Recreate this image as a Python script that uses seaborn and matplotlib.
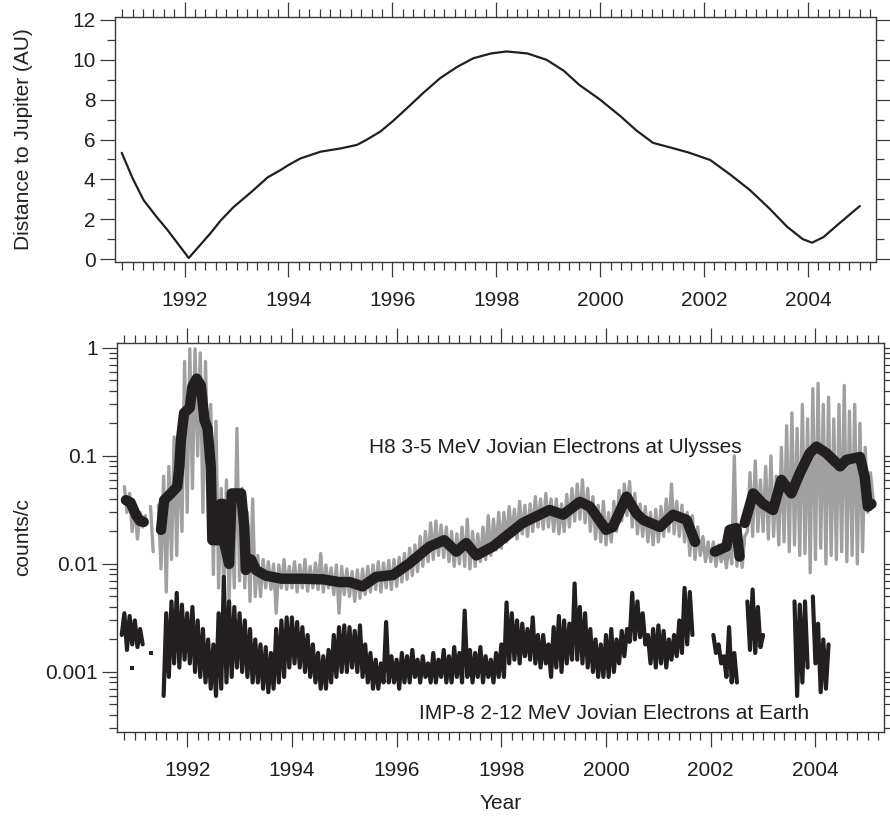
import numpy as np
import pandas as pd
import seaborn as sns
import matplotlib.pyplot as plt
from matplotlib.ticker import MultipleLocator, FuncFormatter, LogLocator, NullFormatter

# ---------------- data ----------------
# Ulysses distance to Jupiter (AU)
dist_year = [1990.79, 1991.0, 1991.21, 1991.45, 1991.67, 1991.9, 1992.08, 1992.5,
             1992.7, 1992.94, 1993.3, 1993.6, 1993.85, 1994.0, 1994.23, 1994.62,
             1995.0, 1995.32, 1995.5, 1995.77, 1996.0, 1996.28, 1996.6, 1996.92,
             1997.25, 1997.56, 1997.9, 1998.2, 1998.6, 1998.97, 1999.3, 1999.6,
             2000.0, 2000.4, 2000.7, 2001.02, 2001.35, 2001.7, 2002.12, 2002.5,
             2002.88, 2003.25, 2003.6, 2003.9, 2004.08, 2004.3, 2004.6, 2005.0]
dist_au = [5.33, 4.05, 2.96, 2.15, 1.46, 0.67, 0.05, 1.3,
           1.95, 2.6, 3.4, 4.1, 4.47, 4.72, 5.05, 5.39,
           5.55, 5.73, 5.98, 6.4, 6.9, 7.57, 8.35, 9.08,
           9.65, 10.08, 10.32, 10.42, 10.32, 10.0, 9.45, 8.74,
           8.0, 7.15, 6.45, 5.83, 5.6, 5.35, 4.97, 4.25,
           3.47, 2.56, 1.62, 1.0, 0.82, 1.1, 1.78, 2.66]

# H8 3-5 MeV electrons at Ulysses, raw (grey), 0.05 yr cadence
cadence = 0.05
h8_raw_a_start = 1990.80
h8_raw_a = [0.052, 0.03, 0.045, 0.02, 0.035, 0.017, 0.03, 0.022, 0.028]
h8_raw_b_start = 1991.30
h8_raw_b = [0.034, 0.013]
h8_raw_c_start = 1991.45
h8_raw_c = [
    0.035, 0.009, 0.065, 0.0055, 0.08, 0.011, 0.15, 0.012, 0.13, 0.02, 0.75,
    # 1992
    0.03, 0.98, 0.05, 0.98, 0.1, 0.9, 0.03, 0.75, 0.05, 0.3,
    0.008, 0.21, 0.006, 0.05, 0.005, 0.06, 0.0045, 0.03, 0.006, 0.18,
    # 1993
    0.007, 0.05, 0.006, 0.03, 0.0045, 0.04, 0.005, 0.012, 0.005, 0.011,
    0.006, 0.0105, 0.0058, 0.01, 0.0035, 0.0098, 0.006, 0.011, 0.0058, 0.0095,
    # 1994
    0.006, 0.0105, 0.0055, 0.0098, 0.006, 0.011, 0.0056, 0.0095, 0.006, 0.0102,
    0.0058, 0.0125, 0.0055, 0.0098, 0.006, 0.0092, 0.0052, 0.0098, 0.0035, 0.0095,
    # 1995
    0.0052, 0.009, 0.005, 0.0085, 0.0045, 0.0088, 0.0048, 0.009, 0.0052, 0.0095,
    0.0055, 0.0098, 0.0058, 0.0105, 0.0055, 0.0102, 0.006, 0.0108, 0.0058, 0.011,
    # 1996
    0.0062, 0.0115, 0.0068, 0.0125, 0.0072, 0.014, 0.0078, 0.015, 0.0085, 0.018,
    0.0095, 0.02, 0.0105, 0.024, 0.011, 0.025, 0.012, 0.023, 0.0115, 0.022,
    # 1997
    0.0105, 0.02, 0.0095, 0.019, 0.01, 0.022, 0.0095, 0.026, 0.009, 0.02,
    0.0095, 0.019, 0.0105, 0.022, 0.011, 0.028, 0.012, 0.026, 0.0135, 0.03,
    # 1998
    0.014, 0.03, 0.016, 0.034, 0.018, 0.032, 0.017, 0.038, 0.019, 0.035,
    0.018, 0.036, 0.02, 0.042, 0.022, 0.04, 0.021, 0.045, 0.022, 0.04,
    # 1999
    0.02, 0.04, 0.019, 0.036, 0.02, 0.044, 0.022, 0.05, 0.025, 0.055,
    0.026, 0.06, 0.024, 0.05, 0.02, 0.042, 0.017, 0.035, 0.016, 0.038,
    # 2000
    0.015, 0.03, 0.016, 0.038, 0.02, 0.048, 0.025, 0.055, 0.028, 0.058,
    0.022, 0.045, 0.019, 0.036, 0.018, 0.034, 0.016, 0.03, 0.015, 0.032,
    # 2001
    0.016, 0.034, 0.018, 0.04, 0.02, 0.055, 0.019, 0.038, 0.018, 0.035,
    0.016, 0.03, 0.012, 0.028, 0.011, 0.022, 0.012, 0.018, 0.0105, 0.016,
    # 2002
    0.0105, 0.016, 0.0095, 0.015, 0.0105, 0.014, 0.0092, 0.016, 0.01, 0.1,
    0.0095, 0.022, 0.0093, 0.018, 0.02, 0.07, 0.018, 0.09, 0.02, 0.06,
    # 2003
    0.02, 0.08, 0.017, 0.1, 0.018, 0.065, 0.015, 0.12, 0.016, 0.19,
    0.013, 0.25, 0.015, 0.18, 0.012, 0.3, 0.0125, 0.22, 0.0083, 0.42,
    # 2004
    0.011, 0.47, 0.014, 0.3, 0.01, 0.35, 0.012, 0.22, 0.011, 0.3,
    0.013, 0.45, 0.0105, 0.26, 0.012, 0.3, 0.01, 0.2, 0.013, 0.12,
    # 2005
    0.03, 0.07, 0.04,
]

# H8 smoothed (thick black); NaN marks a data gap
h8_avg_year = [1990.83, 1990.92, 1991.02, 1991.1, 1991.17, 1991.3,
               1991.5, 1991.56, 1991.69, 1991.81, 1991.85, 1991.88, 1991.94, 1992.05,
               1992.1, 1992.18, 1992.26, 1992.33, 1992.39, 1992.45, 1992.48, 1992.61,
               1992.64, 1992.68, 1992.71, 1992.8, 1992.85, 1993.03, 1993.09, 1993.12,
               1993.22, 1993.31, 1993.5, 1993.8, 1994.2, 1994.6, 1994.9, 1995.1,
               1995.35, 1995.61, 1995.93, 1996.24, 1996.63, 1996.91, 1997.14, 1997.33,
               1997.52, 1997.84, 1998.41, 1998.92, 1999.18, 1999.5, 1999.69, 2000.0,
               2000.13, 2000.39, 2000.58, 2000.71, 2001.03, 2001.28, 2001.54, 2001.7,
               2001.85,
               2002.08, 2002.3, 2002.36, 2002.49, 2002.55, 2002.6,
               2002.65, 2002.81, 2003.0, 2003.19, 2003.35, 2003.54, 2003.7, 2003.89,
               2004.02, 2004.21, 2004.47, 2004.59, 2004.85, 2004.94, 2005.0, 2005.07]
h8_avg = [0.039, 0.037, 0.0285, 0.025, 0.0245, np.nan,
          0.0207, 0.039, 0.045, 0.052, 0.08, 0.14, 0.25, 0.28,
          0.44, 0.52, 0.45, 0.215, 0.18, 0.08, 0.0166, 0.0166,
          0.036, 0.036, 0.0156, 0.01, 0.045, 0.045, 0.022, 0.0088,
          0.011, 0.0088, 0.0078, 0.0073, 0.0073, 0.0072, 0.0068, 0.0068,
          0.0062, 0.0076, 0.0079, 0.0101, 0.0145, 0.0166, 0.013, 0.0156,
          0.012, 0.0145, 0.024, 0.0316, 0.0286, 0.0376, 0.034, 0.0207,
          0.022, 0.042, 0.0294, 0.0256, 0.022, 0.0286, 0.0256, 0.016,
          np.nan,
          0.013, 0.0145, 0.0207, 0.0215, 0.0117, np.nan,
          0.024, 0.045, 0.036, 0.0316, 0.06, 0.045, 0.069, 0.106,
          0.122, 0.106, 0.08, 0.092, 0.098, 0.064, 0.034, 0.036]

# IMP-8 2-12 MeV electrons at Earth, 0.05 yr cadence, separate runs
imp_a_start = 1990.75
imp_a = [0.0022, 0.0035, 0.0016, 0.0033, 0.0018, 0.003, 0.0017, 0.0025, 0.0018]
imp_b_start = 1991.55
imp_b = [
    0.0006, 0.0035, 0.0009, 0.0045, 0.0012, 0.0054, 0.0011, 0.0042, 0.0013,
    # 1992
    0.0035, 0.0012, 0.004, 0.001, 0.003, 0.0009, 0.0025, 0.0008, 0.002, 0.0007,
    0.0018, 0.0006, 0.0035, 0.0007, 0.0076, 0.0008, 0.0045, 0.0009, 0.004, 0.0011,
    # 1993
    0.0035, 0.001, 0.003, 0.0009, 0.0025, 0.0008, 0.002, 0.0008, 0.0018, 0.0007,
    0.0017, 0.00065, 0.0015, 0.0007, 0.0025, 0.0008, 0.003, 0.0009, 0.0032, 0.0011,
    # 1994
    0.0032, 0.0012, 0.0029, 0.0011, 0.0026, 0.001, 0.0022, 0.0009, 0.0018, 0.0008,
    0.0015, 0.0007, 0.0014, 0.0007, 0.0016, 0.0008, 0.0022, 0.0009, 0.0026, 0.001,
    # 1995
    0.0027, 0.001, 0.0026, 0.0011, 0.0024, 0.001, 0.0027, 0.0009, 0.0018, 0.0008,
    0.0015, 0.0007, 0.0013, 0.0007, 0.0012, 0.0008, 0.0029, 0.0008, 0.0014, 0.0008,
    # 1996
    0.0013, 0.0007, 0.0015, 0.0008, 0.0014, 0.0008, 0.0016, 0.0009, 0.0013, 0.0008,
    0.0014, 0.0009, 0.0012, 0.0008, 0.0015, 0.0008, 0.0013, 0.0009, 0.0016, 0.0008,
    # 1997
    0.0014, 0.0008, 0.0017, 0.0009, 0.0015, 0.0008, 0.0037, 0.0009, 0.0016, 0.0008,
    0.0015, 0.0009, 0.0017, 0.0008, 0.0014, 0.0009, 0.0013, 0.0008, 0.0015, 0.0009,
    # 1998
    0.0018, 0.0009, 0.0044, 0.0012, 0.0035, 0.0013, 0.003, 0.0012, 0.0028, 0.0014,
    0.0025, 0.0013, 0.0032, 0.0012, 0.0022, 0.0011, 0.0022, 0.0012, 0.0018, 0.0009,
    # 1999
    0.0026, 0.0011, 0.0033, 0.001, 0.003, 0.0012, 0.0028, 0.0013, 0.0066, 0.0013,
    0.004, 0.0012, 0.0035, 0.0011, 0.0025, 0.001, 0.002, 0.0009, 0.0018, 0.0009,
    # 2000
    0.0022, 0.0009, 0.0025, 0.001, 0.002, 0.0012, 0.0024, 0.0014, 0.0025, 0.0019,
    0.0054, 0.002, 0.0045, 0.0021, 0.0035, 0.0018, 0.0022, 0.0012, 0.0025, 0.0011,
    # 2001
    0.0027, 0.0012, 0.0024, 0.0011, 0.002, 0.0013, 0.0022, 0.0014, 0.003, 0.0015,
    0.006, 0.0018, 0.0055, 0.0022,
]
imp_c_start = 2002.05
imp_c = [0.0022, 0.0015, 0.0018, 0.0012, 0.0014, 0.0009, 0.0026, 0.0008, 0.0015, 0.0008]
imp_d_start = 2002.70
imp_d = [0.0045, 0.0016, 0.0058, 0.0015, 0.004, 0.0017, 0.0022]
imp_e_start = 2003.60
imp_e = [0.0045, 0.0006, 0.0042, 0.0008, 0.0045, 0.0011]
imp_f_start = 2003.95
imp_f = [0.005, 0.0012, 0.0028, 0.00065, 0.002, 0.0007, 0.0018]
imp_dot_year = [1990.95, 1991.30]
imp_dot_val = [0.0011, 0.0015]


def runs_frame(runs):
    parts = []
    for i, (start, vals) in enumerate(runs):
        parts.append(pd.DataFrame({'year': start + cadence * np.arange(len(vals)),
                                   'value': vals, 'seg': i}))
    return pd.concat(parts, ignore_index=True)


h8_raw_df = runs_frame([(h8_raw_a_start, h8_raw_a), (h8_raw_b_start, h8_raw_b),
                        (h8_raw_c_start, h8_raw_c)])
imp_df = runs_frame([(imp_a_start, imp_a), (imp_b_start, imp_b), (imp_c_start, imp_c),
                     (imp_d_start, imp_d), (imp_e_start, imp_e), (imp_f_start, imp_f)])
h8_avg_df = pd.DataFrame({'year': h8_avg_year, 'value': h8_avg})
h8_avg_df['seg'] = h8_avg_df['value'].isna().cumsum()
h8_avg_df = h8_avg_df.dropna()
dist_df = pd.DataFrame({'year': dist_year, 'au': dist_au})

# ---------------- plotting ----------------
sns.set_theme(style='ticks')
plt.rcParams['font.family'] = ['Liberation Sans', 'DejaVu Sans']

ink = '#231f20'
grey = '#a0a0a0'
frame = '#3a3a3a'

fig = plt.figure(figsize=(8.9, 8.17), dpi=100)
ax1 = fig.add_axes([0.1292, 0.6793, 0.855, 0.2999])
ax2 = fig.add_axes([0.1315, 0.1040, 0.8618, 0.4761])

sns.lineplot(data=dist_df, x='year', y='au', color=ink, lw=1.6, ax=ax1)

sns.lineplot(data=h8_raw_df, x='year', y='value', units='seg', estimator=None,
             color=grey, lw=2.4, ax=ax2)
sns.lineplot(data=h8_avg_df, x='year', y='value', units='seg', estimator=None,
             color=ink, lw=7.5, ax=ax2)
sns.lineplot(data=imp_df, x='year', y='value', units='seg', estimator=None,
             color=ink, lw=3.0, ax=ax2)
sns.scatterplot(x=imp_dot_year, y=imp_dot_val, color=ink, marker='s', s=8,
                linewidth=0, ax=ax2)

ax2.set_yscale('log')

for ax in (ax1, ax2):
    ax.set_xlim(1990.66, 2005.31)
    ax.xaxis.set_major_locator(MultipleLocator(2))
    ax.xaxis.set_minor_locator(MultipleLocator(0.2))
    for s in ax.spines.values():
        s.set_color(frame)
        s.set_linewidth(1.0)
    ax.tick_params(which='both', direction='out', top=True, right=True,
                   labeltop=False, labelright=False, colors=frame,
                   labelcolor=ink, labelsize=15, width=0.9)
    ax.tick_params(which='major', length=11)
    ax.tick_params(which='minor', length=6)
    ax.tick_params(axis='x', which='major', pad=10)
    ax.tick_params(axis='y', which='major', pad=3)
    ax.set_xlabel('')

ax1.set_ylim(-0.15, 12.15)
ax1.yaxis.set_major_locator(MultipleLocator(2))
ax1.yaxis.set_minor_locator(MultipleLocator(1))
ax1.set_ylabel('Distance to Jupiter (AU)', fontsize=15, color=ink)
ax1.yaxis.set_label_coords(-0.108, 0.5)

ax2.set_ylim(2.78e-4, 1.11)
ax2.yaxis.set_major_locator(LogLocator(base=10, numticks=10))
ax2.yaxis.set_minor_locator(LogLocator(base=10, subs=np.arange(2, 10), numticks=20))
ax2.yaxis.set_major_formatter(FuncFormatter(lambda v, p: f'{v:g}'))
ax2.yaxis.set_minor_formatter(NullFormatter())
ax2.set_ylabel('counts/c', fontsize=15, color=ink)
ax2.yaxis.set_label_coords(-0.111, 0.5)
ax2.set_xlabel('Year', fontsize=15, color=ink, labelpad=10)

ax2.text(1995.48, 0.121, 'H8 3-5 MeV Jovian Electrons at Ulysses',
         fontsize=15, color=ink, va='center', ha='left')
ax2.text(1996.43, 0.000417, 'IMP-8 2-12 MeV Jovian Electrons at Earth',
         fontsize=15, color=ink, va='center', ha='left')

fig.savefig('out.png', dpi=100)
